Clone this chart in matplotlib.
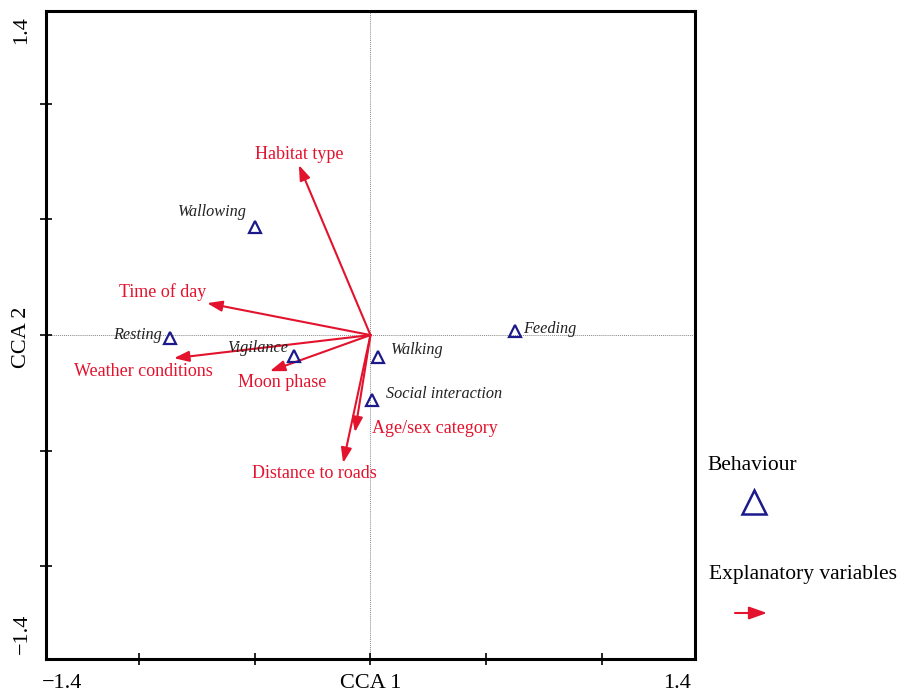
import matplotlib
matplotlib.use("Agg")
import matplotlib.pyplot as plt

plt.rcParams["font.family"] = ["Liberation Serif", "DejaVu Serif"]

RED = "#e3122d"
BLUE = "#1c1a8a"

# behaviour scores (CCA 1, CCA 2)
behaviours = ["Wallowing", "Resting", "Vigilance", "Walking", "Social interaction", "Feeding"]
beh_x = [-0.50, -0.865, -0.33, 0.032, 0.006, 0.623]
beh_y = [0.467, -0.013, -0.09, -0.095, -0.28, 0.017]

# explanatory variable arrows (tip coordinates)
variables = ["Habitat type", "Time of day", "Weather conditions", "Moon phase",
             "Age/sex category", "Distance to roads"]
var_x = [-0.309, -0.705, -0.848, -0.434, -0.067, -0.118]
var_y = [0.735, 0.138, -0.10, -0.156, -0.42, -0.553]

# label placement: (x, y, ha)
beh_lab = [(-0.68, 0.532, "center"), (-0.90, 0.0, "right"), (-0.485, -0.056, "center"),
           (0.088, -0.065, "left"), (0.068, -0.255, "left"), (0.658, 0.026, "left")]
var_lab = [(-0.309, 0.782, "center"), (-0.895, 0.186, "center"), (-0.98, -0.156, "center"),
           (-0.382, -0.205, "center"), (0.008, -0.402, "left"), (-0.243, -0.598, "center")]

fig = plt.figure(figsize=(9.12, 6.94), dpi=100)
ax = fig.add_axes([0.0504, 0.0504, 0.7116, 0.9336])
ax.set_xlim(-1.4, 1.4)
ax.set_ylim(-1.4, 1.4)

ax.axhline(0, color="#888888", lw=0.7, ls=(0, (1, 1)), zorder=1)
ax.axvline(0, color="#888888", lw=0.7, ls=(0, (1, 1)), zorder=1)

for x, y in zip(var_x, var_y):
    ax.annotate("", xy=(x, y), xytext=(0, 0),
                arrowprops=dict(arrowstyle="-|>,head_length=0.9,head_width=0.32",
                                color=RED, lw=1.5, shrinkA=0, shrinkB=0), zorder=3)
for name, (x, y, ha) in zip(variables, var_lab):
    ax.text(x, y, name, color=RED, fontsize=13, ha=ha, va="center", zorder=4)

ax.plot(beh_x, beh_y, ls="none", marker="^", ms=8.5, mfc="none", mec=BLUE, mew=1.6, zorder=5)
for name, (x, y, ha) in zip(behaviours, beh_lab):
    ax.text(x, y, name, color="#222222", fontsize=11.7, style="italic", ha=ha, va="center", zorder=4)

for s in ax.spines.values():
    s.set_linewidth(2.2)
ax.set_xticks([-1.0, -0.5, 0, 0.5, 1.0])
ax.set_yticks([-1.0, -0.5, 0, 0.5, 1.0])
ax.tick_params(direction="inout", length=8, width=1.2, labelbottom=False, labelleft=False)

# end labels
fig.text(62 / 912, 1 - 683 / 694, "\u22121.4", fontsize=16, ha="center", va="center")
fig.text(677 / 912, 1 - 683 / 694, "1.4", fontsize=16, ha="center", va="center")
fig.text(22 / 912, 1 - 30 / 694, "1.4", fontsize=16, ha="center", va="center", rotation=90)
fig.text(22 / 912, 1 - 634 / 694, "\u22121.4", fontsize=16, ha="center", va="center", rotation=90)
fig.text(371 / 912, 1 - 683 / 694, "CCA 1", fontsize=16, ha="center", va="center")
fig.text(22 / 912, 1 - 337 / 694, "CCA 2", fontsize=16, ha="center", va="center", rotation=90)

# legend on the right
fig.text(707 / 912, 1 - 465 / 694, "Behaviour", fontsize=15.5, ha="left", va="center")
fig.lines.append(plt.Line2D([754 / 912], [1 - 502 / 694], transform=fig.transFigure,
                            marker="^", ms=17, mfc="none", mec=BLUE, mew=1.8, ls="none"))
fig.text(709 / 912, 1 - 575 / 694, "Explanatory variables", fontsize=15.5, ha="left", va="center")
fig.patches.append(matplotlib.patches.FancyArrowPatch(
    (735 / 912, 1 - 613 / 694), (767 / 912, 1 - 613 / 694), transform=fig.transFigure,
    arrowstyle="-|>,head_length=0.9,head_width=0.32", color=RED, lw=1.5,
    mutation_scale=12, shrinkA=0, shrinkB=0))

fig.savefig("out.png", dpi=100)
